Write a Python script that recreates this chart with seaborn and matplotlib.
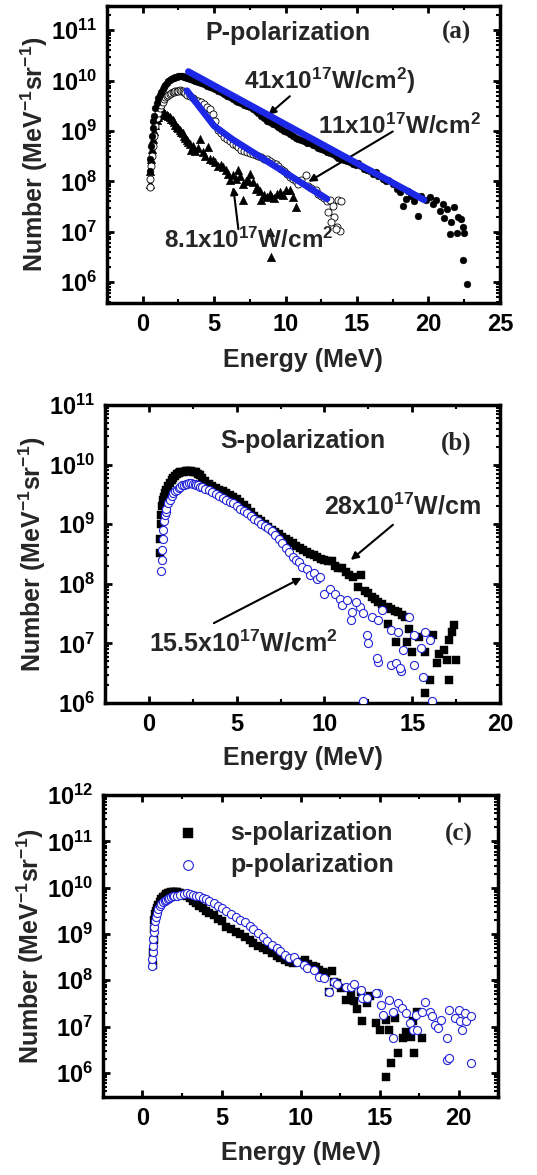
import numpy as np
import matplotlib
matplotlib.use("Agg")
import matplotlib.pyplot as plt
import seaborn as sns
from matplotlib.ticker import MultipleLocator, LogLocator, NullFormatter

# values: energy in MeV, number given as log10

# (a) P-polarization, 41x10^17 W/cm^2 (filled circles)
a41_e = [0.5, 0.55, 0.6, 0.65, 0.7, 0.75, 0.8, 0.9, 1.0, 1.1,
         1.2, 1.3, 1.4, 1.5, 1.6, 1.7, 1.8, 1.9, 2.0, 2.1,
         2.2, 2.3, 2.4, 2.5, 2.6, 2.7, 2.8, 2.9, 3.0, 3.1,
         3.2, 3.3, 3.5, 3.7, 3.9, 4.1, 4.3, 4.5, 4.7, 4.9,
         5.1, 5.3, 5.5, 5.7, 5.9, 6.1, 6.3, 6.5, 6.7, 6.9,
         7.1, 7.3, 7.5, 7.7, 7.9, 8.1, 8.3, 8.5, 8.7, 8.9,
         9.1, 9.3, 9.5, 9.7, 9.9, 10.1, 10.3, 10.5, 10.7, 10.9,
         11.1, 11.3, 11.5, 11.7, 11.9, 12.1, 12.3, 12.5, 12.7, 12.9,
         13.1, 13.3, 13.5, 13.7, 13.9, 14.1, 14.3, 14.5, 14.7, 14.9,
         15.1, 15.3, 15.5, 15.7, 15.9, 16.1, 16.3, 16.5, 16.8, 17.0,
         17.2, 17.5, 17.8, 18.0, 18.2, 18.4, 18.6, 18.8, 19.0, 19.3,
         19.5, 19.8, 20.1, 20.3, 20.5, 20.8, 21.0, 21.1, 21.3, 21.5,
         21.6, 21.8, 22.0, 22.1, 22.3, 22.4, 22.5, 22.4, 22.7]
a41_log = [8.2, 8.45, 8.7, 8.9, 9.05, 9.2, 9.3, 9.45, 9.55, 9.65,
           9.72, 9.78, 9.84, 9.88, 9.92, 9.96, 9.99, 10.01, 10.03, 10.05,
           10.06, 10.07, 10.08, 10.09, 10.09, 10.1, 10.09, 10.08, 10.07, 10.06,
           10.05, 10.04, 10.02, 10.0, 9.98, 9.95, 9.93, 9.9, 9.88, 9.86,
           9.83, 9.8, 9.77, 9.73, 9.7, 9.67, 9.64, 9.6, 9.57, 9.55,
           9.52, 9.5, 9.47, 9.44, 9.4, 9.36, 9.3, 9.25, 9.2, 9.18,
           9.14, 9.12, 9.07, 9.03, 9.0, 8.97, 8.93, 8.9, 8.87, 8.85,
           8.83, 8.8, 8.77, 8.76, 8.73, 8.7, 8.67, 8.64, 8.62, 8.58,
           8.56, 8.55, 8.5, 8.47, 8.45, 8.42, 8.4, 8.38, 8.35, 8.33,
           8.36, 8.3, 8.25, 8.22, 8.2, 8.15, 8.18, 8.1, 8.05, 8.0,
           8.02, 7.95, 7.85, 7.78, 7.5, 7.65, 7.8, 7.7, 7.6, 7.32,
           7.7, 7.62, 7.68, 7.55, 7.62, 7.42, 7.55, 7.28, 7.45, 6.95,
           7.2, 7.48, 6.98, 7.3, 7.25, 7.1, 6.98, 6.43, 5.96]

# (a) 11x10^17 W/cm^2 (open circles)
a11_e = [0.5, 0.55, 0.6, 0.65, 0.7, 0.8, 0.9, 1.0, 1.1, 1.2,
         1.3, 1.4, 1.5, 1.6, 1.7, 1.8, 1.9, 2.0, 2.1, 2.2,
         2.3, 2.4, 2.5, 2.6, 2.7, 2.8, 2.9, 3.0, 3.1, 3.3,
         3.5, 3.7, 3.9, 4.1, 4.3, 4.5, 4.7, 4.9, 5.1, 5.3,
         5.5, 5.7, 5.9, 6.1, 6.3, 6.5, 6.7, 6.9, 7.1, 7.3,
         7.5, 7.7, 7.9, 8.1, 8.3, 8.5, 8.7, 8.9, 9.1, 9.3,
         9.5, 9.7, 9.9, 10.1, 10.3, 10.5, 10.7, 10.9, 11.1, 11.4,
         11.6, 11.8, 12.1, 12.3, 12.5, 12.7, 12.9, 13.1, 13.3, 13.0,
         13.4, 13.2, 13.6, 13.8, 13.5, 13.7, 13.9]
a11_log = [7.88, 8.05, 8.3, 8.5, 8.7, 8.9, 9.1, 9.25, 9.35, 9.45,
           9.52, 9.58, 9.63, 9.67, 9.7, 9.72, 9.74, 9.75, 9.77, 9.78,
           9.79, 9.8, 9.8, 9.81, 9.8, 9.79, 9.77, 9.75, 9.72, 9.7,
           9.65, 9.62, 9.6, 9.57, 9.53, 9.48, 9.44, 9.34, 9.2, 9.02,
           8.95, 8.88, 8.84, 8.8, 8.75, 8.72, 8.68, 8.63, 8.6, 8.58,
           8.56, 8.55, 8.52, 8.5, 8.48, 8.45, 8.44, 8.4, 8.37, 8.34,
           8.3, 8.25, 8.2, 8.14, 8.09, 8.05, 8.0, 7.95, 8.02, 8.12,
           7.9, 7.86, 7.82, 7.75, 7.7, 7.66, 7.6, 7.62, 7.5, 7.4,
           7.3, 7.2, 7.1, 7.02, 7.05, 7.62, 7.6]

# (a) 8.1x10^17 W/cm^2 (triangles)
a8_e = [0.5, 0.55, 0.6, 0.65, 0.7, 0.8, 0.9, 1.0, 1.1, 1.2,
        1.3, 1.4, 1.5, 1.6, 1.7, 1.8, 1.9, 2.0, 2.1, 2.2,
        2.3, 2.4, 2.5, 2.6, 2.7, 2.8, 2.9, 3.0, 3.1, 3.2,
        3.3, 3.4, 3.5, 3.7, 3.9, 4.0, 4.2, 4.4, 4.6, 4.7,
        4.9, 5.1, 5.3, 5.5, 5.6, 5.8, 6.0, 6.1, 6.3, 6.5,
        6.7, 6.8, 7.0, 7.0, 7.2, 7.4, 7.5, 7.7, 7.9, 8.0,
        8.2, 8.3, 8.5, 8.7, 8.9, 9.0, 9.2, 9.4, 9.6, 9.8,
        10.0, 10.3, 10.5, 10.7, 8.9, 9.0]
a8_log = [7.95, 8.2, 8.45, 8.65, 8.85, 9.0, 9.12, 9.22, 9.28, 9.32,
          9.35, 9.37, 9.36, 9.34, 9.32, 9.3, 9.27, 9.24, 9.22, 9.18,
          9.12, 9.08, 9.05, 9.02, 8.98, 8.95, 8.9, 8.86, 8.82, 8.78,
          8.74, 8.62, 8.7, 8.6, 8.66, 8.85, 8.58, 8.5, 8.69, 8.45,
          8.42, 8.38, 8.3, 8.33, 8.28, 8.22, 8.15, 8.02, 8.12, 8.05,
          8.22, 8.1, 7.95, 7.62, 8.0, 8.02, 8.15, 7.99, 7.85, 7.89,
          7.8, 7.62, 7.72, 7.69, 7.75, 7.7, 7.66, 7.75, 7.78, 7.72,
          7.82, 7.82, 7.68, 7.49, 7.0, 6.49]

# (a) exponential fits (blue)
fit41_e = [3.2, 19.7]
fit41_log = [10.18, 7.63]
fit11_e = [3.1, 5.0, 6.3, 12.9]
fit11_log = [9.8, 9.1, 8.83, 7.65]

# (b) S-polarization, 28x10^17 W/cm^2 (squares)
b28_e = [0.63, 0.65, 0.68, 0.7, 0.75, 0.8, 0.85, 0.9, 1.0, 1.1,
         1.2, 1.3, 1.4, 1.5, 1.6, 1.7, 1.8, 1.9, 2.0, 2.1,
         2.2, 2.3, 2.4, 2.5, 2.6, 2.7, 2.8, 2.9, 3.0, 3.2,
         3.4, 3.6, 3.8, 4.0, 4.2, 4.4, 4.6, 4.8, 5.0, 5.2,
         5.4, 5.6, 5.8, 6.0, 6.2, 6.4, 6.6, 6.8, 7.0, 7.2,
         7.4, 7.6, 7.8, 8.0, 8.2, 8.4, 8.6, 8.8, 9.0, 9.2,
         9.4, 9.6, 9.8, 10.0, 10.2, 10.43, 10.6, 10.8, 11.0, 11.2,
         11.4, 11.6, 11.9, 12.1, 12.3, 12.5, 12.7, 12.9, 13.05, 13.3,
         13.6, 13.8, 14.0, 14.2, 14.4, 14.6, 14.8, 13.6, 14.1, 14.7,
         15.0, 15.4, 15.7, 16.2, 16.5, 16.8, 17.0, 16.4, 17.1, 17.25,
         17.4, 17.5, 16.0, 17.1, 15.7]
b28_log = [8.51, 8.75, 9.0, 9.15, 9.3, 9.4, 9.46, 9.52, 9.58, 9.64,
           9.69, 9.74, 9.78, 9.81, 9.84, 9.86, 9.87, 9.88, 9.88, 9.89,
           9.89, 9.89, 9.89, 9.88, 9.88, 9.87, 9.85, 9.82, 9.78, 9.72,
           9.68, 9.64, 9.61, 9.58, 9.55, 9.52, 9.49, 9.46, 9.42, 9.37,
           9.32, 9.27, 9.2, 9.14, 9.09, 9.05, 9.0, 8.95, 8.91, 8.87,
           8.83, 8.79, 8.75, 8.72, 8.68, 8.64, 8.6, 8.56, 8.53, 8.5,
           8.48, 8.45, 8.42, 8.4, 8.38, 8.39, 8.3, 8.27, 8.26, 8.2,
           8.15, 8.12, 7.94, 8.14, 7.88, 7.84, 7.78, 7.74, 7.69, 7.66,
           7.61, 7.57, 7.55, 7.53, 7.48, 7.44, 7.25, 7.33, 7.03, 7.03,
           6.86, 7.11, 6.86, 7.14, 6.83, 6.89, 6.72, 6.67, 7.06, 7.19,
           7.31, 6.72, 6.39, 6.39, 6.17]

# (b) 15.5x10^17 W/cm^2 (blue open circles)
b15_e = [0.7, 0.72, 0.75, 0.78, 0.8, 0.85, 0.9, 0.95, 1.0, 1.1,
         1.2, 1.3, 1.4, 1.5, 1.6, 1.7, 1.8, 1.9, 2.0, 2.1,
         2.2, 2.3, 2.4, 2.5, 2.6, 2.7, 2.8, 2.9, 3.0, 3.2,
         3.4, 3.6, 3.8, 4.0, 4.2, 4.4, 4.6, 4.8, 5.0, 5.2,
         5.4, 5.6, 5.8, 6.0, 6.2, 6.4, 6.6, 6.8, 7.0, 7.2,
         7.4, 7.6, 7.8, 8.0, 8.2, 8.4, 8.56, 8.75, 9.03, 9.2,
         9.4, 9.6, 9.75, 9.96, 10.3, 10.6, 10.9, 11.0, 11.3, 11.55,
         11.5, 12.0, 12.2, 12.4, 12.5, 12.7, 13.05, 13.3, 13.8, 14.2,
         14.5, 14.8, 15.1, 15.5, 15.7, 16.0, 13.05, 13.8, 14.35, 15.1,
         15.6, 12.2, 16.1, 14.1, 14.3, 13.0, 11.8]
b15_log = [8.21, 8.4, 8.57, 8.75, 8.9, 9.05, 9.15, 9.2, 9.25, 9.35,
           9.41, 9.47, 9.52, 9.55, 9.58, 9.61, 9.63, 9.65, 9.66, 9.67,
           9.68, 9.69, 9.69, 9.68, 9.68, 9.66, 9.65, 9.63, 9.62, 9.59,
           9.57, 9.54, 9.5, 9.47, 9.44, 9.41, 9.38, 9.35, 9.3, 9.26,
           9.22, 9.18, 9.13, 9.08, 9.05, 9.01, 8.97, 8.93, 8.88, 8.82,
           8.75, 8.68, 8.6, 8.53, 8.45, 8.4, 8.36, 8.28, 8.25, 8.14,
           8.18, 8.08, 8.12, 7.83, 7.92, 7.83, 7.75, 7.64, 7.73, 7.53,
           7.39, 7.61, 7.51, 7.14, 7.0, 7.44, 7.39, 7.56, 7.22, 7.19,
           6.89, 7.44, 7.14, 6.92, 7.19, 7.06, 6.69, 6.64, 6.53, 6.64,
           6.44, 6.03, 6.03, 6.67, 6.59, 6.75, 7.7]

# (c) s-polarization (squares)
cs_e = [0.65, 0.68, 0.7, 0.72, 0.75, 0.8, 0.85, 0.9, 1.0, 1.1,
        1.2, 1.3, 1.4, 1.5, 1.6, 1.7, 1.8, 1.9, 2.0, 2.1,
        2.2, 2.3, 2.4, 2.5, 2.6, 2.7, 2.8, 3.0, 3.2, 3.4,
        3.6, 3.8, 4.0, 4.2, 4.5, 4.8, 5.0, 5.3, 5.6, 5.9,
        6.2, 6.5, 6.8, 7.0, 7.3, 7.6, 7.9, 8.2, 8.5, 8.7,
        9.0, 9.3, 9.5, 9.8, 10.0, 10.3, 10.5, 10.8, 10.96, 11.2,
        11.4, 11.6, 11.8, 12.0, 12.1, 12.3, 12.55, 12.9, 13.2, 13.4,
        13.6, 13.8, 13.9, 14.2, 14.4, 14.8, 15.0, 15.4, 15.6, 15.96,
        16.5, 16.7, 17.1, 17.0, 17.4, 17.66, 16.2, 17.2, 15.7, 15.4]
cs_log = [8.33, 8.6, 8.88, 9.1, 9.3, 9.42, 9.5, 9.56, 9.63, 9.7,
          9.76, 9.8, 9.83, 9.86, 9.88, 9.89, 9.9, 9.9, 9.9, 9.9,
          9.9, 9.89, 9.88, 9.87, 9.86, 9.85, 9.83, 9.78, 9.72, 9.66,
          9.6, 9.55, 9.5, 9.46, 9.4, 9.32, 9.27, 9.16, 9.1, 9.05,
          8.99, 8.93, 8.86, 8.81, 8.75, 8.7, 8.65, 8.58, 8.52, 8.47,
          8.43, 8.4, 8.37, 8.4, 8.4, 8.44, 8.35, 8.3, 8.29, 8.22,
          8.18, 8.15, 7.75, 8.19, 7.97, 7.95, 7.83, 7.57, 7.72, 7.55,
          7.39, 7.75, 7.11, 7.5, 7.65, 7.07, 6.93, 7.14, 6.93, 7.18,
          6.75, 6.89, 7.11, 6.78, 7.32, 6.75, 6.42, 6.42, 6.21, 5.92]

# (c) p-polarization (blue open circles)
cp_e = [0.6, 0.62, 0.64, 0.66, 0.68, 0.7, 0.75, 0.8, 0.85, 0.9,
        1.0, 1.1, 1.2, 1.3, 1.4, 1.5, 1.6, 1.7, 1.8, 1.9,
        2.0, 2.2, 2.4, 2.6, 2.8, 3.0, 3.2, 3.4, 3.6, 3.8,
        4.0, 4.2, 4.5, 4.8, 5.0, 5.3, 5.6, 5.9, 6.2, 6.5,
        6.8, 7.0, 7.3, 7.6, 7.9, 8.2, 8.5, 8.7, 9.0, 9.3,
        9.57, 9.8, 10.2, 10.4, 10.85, 11.2, 11.5, 11.8, 12.1, 12.3,
        12.9, 13.2, 13.4, 13.8, 13.9, 14.2, 14.9, 15.1, 15.2, 15.6,
        15.85, 16.2, 16.4, 16.7, 16.9, 17.1, 17.4, 17.3, 17.66, 17.9,
        18.2, 18.3, 18.5, 18.7, 18.9, 19.25, 19.4, 19.8, 20.0, 20.1,
        20.2, 20.4, 20.5, 20.8, 19.3, 19.4, 20.8, 14.8, 15.85]
cp_log = [8.3, 8.45, 8.6, 8.73, 8.9, 9.05, 9.16, 9.28, 9.37, 9.45,
          9.53, 9.6, 9.64, 9.68, 9.71, 9.74, 9.76, 9.78, 9.8, 9.81,
          9.82, 9.83, 9.84, 9.86, 9.88, 9.87, 9.84, 9.83, 9.81, 9.78,
          9.75, 9.72, 9.67, 9.6, 9.55, 9.49, 9.43, 9.37, 9.31, 9.25,
          9.18, 9.1, 9.02, 8.93, 8.85, 8.77, 8.69, 8.63, 8.55, 8.48,
          8.51, 8.4, 8.33, 8.27, 8.22, 8.08, 8.04, 7.75, 7.97, 7.93,
          7.86, 7.86, 7.93, 7.79, 7.61, 7.61, 7.72, 7.47, 7.25, 7.57,
          7.32, 7.5, 7.4, 7.29, 7.07, 6.93, 6.93, 7.25, 7.32, 7.54,
          7.32, 7.22, 7.04, 6.96, 7.14, 6.75, 7.36, 7.18, 7.36, 7.11,
          6.93, 7.29, 7.11, 7.22, 6.28, 6.32, 6.21, 7.72, 6.75]

sns.set_theme(style="ticks")
plt.rcParams["font.family"] = ["Liberation Sans", "DejaVu Sans"]
plt.rcParams["font.weight"] = "bold"
plt.rcParams["mathtext.default"] = "regular"
plt.rcParams["axes.edgecolor"] = "black"
plt.rcParams["xtick.color"] = "black"
plt.rcParams["ytick.color"] = "black"

BLUE = "#2323d8"
FIT_BLUE = "#1c28e6"
serif = ["Liberation Serif", "DejaVu Serif"]


def pw(vals):
    return 10 ** np.asarray(vals, dtype=float)


def style_axes(ax, xlim, ylim_exp, xlab_y):
    ax.set_yscale("log")
    ax.set_xlim(*xlim)
    ax.set_ylim(10 ** ylim_exp[0], 10 ** ylim_exp[1])
    ax.xaxis.set_major_locator(MultipleLocator(5))
    ax.xaxis.set_minor_locator(MultipleLocator(2.5))
    ax.yaxis.set_major_locator(LogLocator(base=10, numticks=30))
    ax.yaxis.set_minor_locator(LogLocator(base=10, subs=np.arange(2, 10), numticks=30))
    ax.yaxis.set_minor_formatter(NullFormatter())
    ax.tick_params(which="both", direction="in", top=True, right=True)
    ax.tick_params(which="major", length=5, width=2, labelsize=17, pad=7)
    ax.tick_params(which="minor", length=3, width=1.5)
    for sp in ax.spines.values():
        sp.set_linewidth(2.5)
        sp.set_color("black")
    ax.set_xlabel("Energy (MeV)", fontsize=18, fontweight="bold", va="top")
    ax.set_ylabel(r"Number (MeV$^{-1}$sr$^{-1}$)", fontsize=18, fontweight="bold")
    ax.xaxis.set_label_coords(0.5, xlab_y)
    ax.yaxis.set_label_coords(-0.145, 0.5)


fig = plt.figure(figsize=(5.37, 11.75), dpi=100)
ax_a = fig.add_axes([0.199, 0.742, 0.732, 0.2528])
ax_b = fig.add_axes([0.1955, 0.4017, 0.7356, 0.2536])
ax_c = fig.add_axes([0.1918, 0.0664, 0.7356, 0.257])

# ---------------- panel (a)
ax = ax_a
style_axes(ax, (-2.5, 25), (5.58, 11.48), -0.15)
sns.scatterplot(x=a8_e, y=pw(a8_log), ax=ax, marker="^", s=38, color="black",
                edgecolor="black", linewidth=0.3, zorder=3)
sns.scatterplot(x=a11_e, y=pw(a11_log), ax=ax, marker="o", s=26, facecolor="white",
                edgecolor="black", linewidth=0.6, zorder=4)
sns.scatterplot(x=a41_e, y=pw(a41_log), ax=ax, marker="o", s=24, color="black",
                edgecolor="black", linewidth=0.3, zorder=5)
sns.lineplot(x=fit41_e, y=pw(fit41_log), ax=ax, color=FIT_BLUE, linewidth=4.8, zorder=6)
sns.lineplot(x=fit11_e, y=pw(fit11_log), ax=ax, color=FIT_BLUE, linewidth=4.8, zorder=6)
ax.text(0.46, 0.91, "P-polarization", transform=ax.transAxes, ha="center", va="center",
        fontsize=18, fontweight="bold")
ax.text(0.89, 0.91, "(a)", transform=ax.transAxes, ha="center", va="center",
        fontsize=18, fontweight="bold", family=serif)
ax.text(7.1, 10 ** 9.99, r"41x10$^{17}$W/cm$^{2}$)", ha="left", va="center",
        fontsize=17.5, fontweight="bold")
ax.text(12.3, 10 ** 9.09, r"11x10$^{17}$W/cm$^{2}$", ha="left", va="center",
        fontsize=17.5, fontweight="bold")
ax.text(1.5, 10 ** 6.82, r"8.1x10$^{17}$W/cm$^{2}$", ha="left", va="center",
        fontsize=17.5, fontweight="bold")
arrow = dict(arrowstyle="-|>", color="black", lw=1.5, mutation_scale=11, shrinkA=0, shrinkB=0)
ax.annotate("", xy=(8.8, 10 ** 9.32), xytext=(10.3, 10 ** 9.69), arrowprops=arrow)
ax.annotate("", xy=(11.6, 10 ** 7.99), xytext=(17.5, 10 ** 8.99), arrowprops=arrow)
ax.annotate("", xy=(6.34, 10 ** 7.89), xytext=(6.7, 10 ** 7.05), arrowprops=arrow)

# ---------------- panel (b)
ax = ax_b
style_axes(ax, (-2.5, 20), (6, 11), -0.143)
sns.scatterplot(x=b28_e, y=pw(b28_log), ax=ax, marker="s", s=30, color="black",
                edgecolor="black", linewidth=0.3, zorder=3)
sns.scatterplot(x=b15_e, y=pw(b15_log), ax=ax, marker="o", s=34, facecolor="white",
                edgecolor=BLUE, linewidth=0.8, zorder=4)
ax.text(0.50, 0.88, "S-polarization", transform=ax.transAxes, ha="center", va="center",
        fontsize=18, fontweight="bold")
ax.text(0.89, 0.87, "(b)", transform=ax.transAxes, ha="center", va="center",
        fontsize=18, fontweight="bold", family=serif)
ax.text(10.0, 10 ** 9.3, r"28x10$^{17}$W/cm", ha="left", va="center",
        fontsize=18, fontweight="bold")
ax.text(0.0, 10 ** 7.0, r"15.5x10$^{17}$W/cm$^{2}$", ha="left", va="center",
        fontsize=18, fontweight="bold")
ax.annotate("", xy=(11.5, 10 ** 8.4), xytext=(13.9, 10 ** 8.99), arrowprops=arrow)
ax.annotate("", xy=(8.7, 10 ** 8.1), xytext=(3.7, 10 ** 7.34), arrowprops=arrow)

# ---------------- panel (c)
ax = ax_c
style_axes(ax, (-2.5, 22.5), (5.48, 12), -0.146)
sns.scatterplot(x=cs_e, y=pw(cs_log), ax=ax, marker="s", s=30, color="black",
                edgecolor="black", linewidth=0.3, zorder=3, label="s-polarization")
sns.scatterplot(x=cp_e, y=pw(cp_log), ax=ax, marker="o", s=34, facecolor="white",
                edgecolor=BLUE, linewidth=0.8, zorder=4, label="p-polarization")
ax.legend(loc="upper left", bbox_to_anchor=(0.158, 0.947), frameon=False,
          prop={"size": 18, "weight": "bold"}, handlelength=1.0, handletextpad=1.2,
          labelspacing=0.32, markerscale=1.2, borderaxespad=0)
ax.text(0.90, 0.87, "(c)", transform=ax.transAxes, ha="center", va="center",
        fontsize=18, fontweight="bold", family=serif)

fig.savefig("out.png", dpi=100)
